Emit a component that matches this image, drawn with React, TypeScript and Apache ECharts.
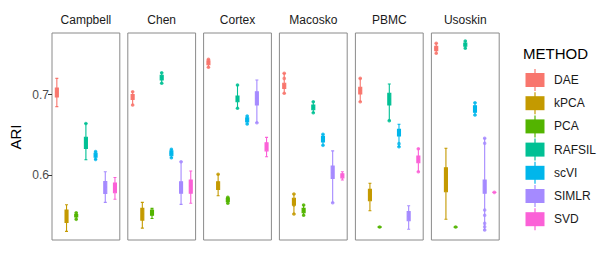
import React, { useEffect, useRef } from "react";
import * as echarts from "echarts";

const METHODS = ["DAE", "kPCA", "PCA", "RAFSIL", "scVI", "SIMLR", "SVD"];
const COLORS = ["#F8766D", "#C49A00", "#53B400", "#00C094", "#00B6EB", "#A58AFF", "#FB61D7"];
const DATASETS = ["Campbell", "Chen", "Cortex", "Macosko", "PBMC", "Usoskin"];
const Y_TICKS = [0.6, 0.7];

// [min, q1, median, q3, max] per method
const CAMPBELL = [
  [0.685, 0.697, 0.7035, 0.708, 0.72],
  [0.53, 0.541, 0.55, 0.5565, 0.563],
  [0.545, 0.548, 0.5495, 0.551, 0.553],
  [0.619, 0.633, 0.64, 0.647, 0.664],
  [0.6195, 0.622, 0.6245, 0.627, 0.629],
  [0.566, 0.577, 0.585, 0.592, 0.604],
  [0.57, 0.578, 0.584, 0.59, 0.597],
];
const CHEN = [
  [0.687, 0.694, 0.697, 0.7, 0.7035],
  [0.534, 0.544, 0.5515, 0.5586, 0.566],
  [0.546, 0.55, 0.553, 0.5565, 0.5586],
  [0.714, 0.718, 0.7213, 0.724, 0.727],
  [0.6215, 0.624, 0.627, 0.63, 0.632],
  [0.5636, 0.5773, 0.5847, 0.5917, 0.6165],
  [0.565, 0.5773, 0.5863, 0.5938, 0.605],
];
const CORTEX = [
  [0.7338, 0.737, 0.7395, 0.742, 0.7437],
  [0.5743, 0.5822, 0.5872, 0.5917, 0.6009],
  [0.565, 0.567, 0.569, 0.571, 0.5723],
  [0.6829, 0.691, 0.6953, 0.698, 0.7118],
  [0.6634, 0.666, 0.6683, 0.671, 0.6733],
  [0.665, 0.687, 0.6953, 0.7035, 0.718],
  [0.6227, 0.63, 0.6352, 0.64, 0.6468],
];
const MACOSKO = [
  [0.7015, 0.7075, 0.7106, 0.714, 0.7263],
  [0.5516, 0.5627, 0.5669, 0.5711, 0.5764],
  [0.55, 0.5532, 0.556, 0.5586, 0.5627],
  [0.6774, 0.681, 0.6836, 0.687, 0.691],
  [0.6369, 0.641, 0.6443, 0.648, 0.6506],
  [0.5656, 0.5959, 0.6029, 0.6112, 0.63],
  [0.5938, 0.5965, 0.5991, 0.6015, 0.6041],
];
const PBMC = [
  [0.691, 0.7006, 0.7047, 0.709, 0.72],
  [0.5557, 0.568, 0.5752, 0.5822, 0.5897],
  [0.535, 0.5352, 0.5354, 0.5356, 0.5358],
  [0.6675, 0.687, 0.6944, 0.7015, 0.713],
  [0.6352, 0.6484, 0.6526, 0.6567, 0.663],
  [0.5326, 0.5432, 0.549, 0.5545, 0.5619],
  [0.6041, 0.6153, 0.6195, 0.6236, 0.6327],
];
const USOSKIN = [
  [0.7512, 0.7545, 0.7574, 0.76, 0.7636],
  [0.545, 0.5793, 0.5938, 0.6091, 0.6332],
  [0.5352, 0.5353, 0.5354, 0.5355, 0.5356],
  [0.7574, 0.76, 0.7624, 0.764, 0.7665],
  [0.6745, 0.678, 0.682, 0.686, 0.6898],
  [0.5317, 0.5773, 0.5863, 0.5938, 0.6456],
  [0.5783, 0.5784, 0.5785, 0.5786, 0.5787],
];
const BOXES = [CAMPBELL, CHEN, CORTEX, MACOSKO, PBMC, USOSKIN];

// outlier / extreme points: [method index, value]
const CAMPBELL_PTS = [[2, 0.553], [2, 0.545], [3, 0.664], [4, 0.629], [4, 0.6195]];
const CHEN_PTS = [[0, 0.7035], [0, 0.687], [3, 0.727], [3, 0.714], [4, 0.632], [4, 0.6215], [4, 0.627], [5, 0.6165]];
const CORTEX_PTS = [[0, 0.7437], [0, 0.7338], [1, 0.6009], [2, 0.5723], [2, 0.565], [3, 0.7118], [3, 0.6829], [4, 0.6733], [4, 0.6634], [5, 0.665]];
const MACOSKO_PTS = [[0, 0.7263], [0, 0.72], [0, 0.7015], [1, 0.5764], [1, 0.5516], [1, 0.5627], [2, 0.5627], [2, 0.55], [3, 0.691], [3, 0.6774], [4, 0.6506], [4, 0.6369], [4, 0.6443], [5, 0.5656]];
const PBMC_PTS = [[0, 0.72], [0, 0.691], [2, 0.5354], [3, 0.6675], [4, 0.6352], [4, 0.639], [6, 0.6327], [6, 0.6041]];
const USOSKIN_PTS = [[0, 0.7636], [0, 0.7574], [0, 0.7512], [2, 0.5354], [3, 0.7665], [3, 0.7574], [4, 0.6898], [4, 0.682], [4, 0.6745], [5, 0.6456], [5, 0.6394], [5, 0.5565], [5, 0.55], [5, 0.54], [5, 0.5358], [5, 0.5317], [6, 0.5785]];
const POINTS = [CAMPBELL_PTS, CHEN_PTS, CORTEX_PTS, MACOSKO_PTS, PBMC_PTS, USOSKIN_PTS];

const PANEL_LEFTS = [52, 127.8, 203.6, 279.4, 355.4, 431.4];
const PANEL_W = 67.8;
const PANEL_TOP = 33;
const PANEL_H = 207;
const Y_MIN = 0.5193;
const Y_MAX = 0.7764;
const FONT = "Liberation Sans, Arial, sans-serif";

export default function App() {
  const ref = useRef<HTMLDivElement>(null);
  useEffect(() => {
    if (!ref.current) return;
    const chart = echarts.init(ref.current, undefined, { renderer: "svg" });
    const grid: any[] = [];
    const xAxis: any[] = [];
    const yAxis: any[] = [];
    const series: any[] = [];
    const graphic: any[] = [];
    DATASETS.forEach((name, gi) => {
      grid.push({
        left: PANEL_LEFTS[gi],
        top: PANEL_TOP,
        width: PANEL_W,
        height: PANEL_H,
        show: true,
        borderColor: "#8a8a8a",
        borderWidth: 1,
        backgroundColor: "transparent",
      });
      xAxis.push({
        type: "category",
        gridIndex: gi,
        data: METHODS,
        boundaryGap: true,
        axisLine: { show: false },
        axisTick: { show: false },
        axisLabel: { show: false },
        splitLine: { show: false },
      });
      yAxis.push({
        type: "value",
        gridIndex: gi,
        min: Y_MIN,
        max: Y_MAX,
        axisLine: { show: false },
        splitLine: { show: false },
        axisTick: {
          show: gi === 0,
          length: 4,
          lineStyle: { color: "#333333", width: 1 },
          customValues: Y_TICKS,
        },
        axisLabel: {
          show: gi === 0,
          customValues: Y_TICKS,
          formatter: (v: number) => v.toFixed(1),
          fontSize: 12,
          color: "#4d4d4d",
          fontFamily: FONT,
          margin: 3,
        },
      });
      series.push({
        type: "boxplot",
        xAxisIndex: gi,
        yAxisIndex: gi,
        boxWidth: [3, 3],
        data: BOXES[gi].map((v, i) => ({
          value: v,
          itemStyle: { color: COLORS[i], borderColor: COLORS[i], borderWidth: 1.1 },
        })),
        emphasis: { disabled: true },
      });
      series.push({
        type: "scatter",
        xAxisIndex: gi,
        yAxisIndex: gi,
        symbolSize: 3.6,
        data: POINTS[gi].map(([m, v]) => ({
          value: [METHODS[m], v],
          itemStyle: { color: COLORS[m] },
        })),
      });
      graphic.push({
        type: "text",
        x: PANEL_LEFTS[gi] + PANEL_W / 2,
        y: 20,
        style: {
          text: name,
          fontSize: 12,
          fontFamily: FONT,
          fill: "#1a1a1a",
          align: "center",
          verticalAlign: "middle",
        },
      });
    });
    graphic.push({
      type: "text",
      x: 15,
      y: 137,
      rotation: Math.PI / 2,
      style: {
        text: "ARI",
        fontSize: 15,
        fontFamily: FONT,
        fill: "#000",
        align: "center",
        verticalAlign: "middle",
      },
    });
    graphic.push({
      type: "text",
      x: 523,
      y: 53,
      style: {
        text: "METHOD",
        fontSize: 15,
        fontFamily: FONT,
        fill: "#000",
        align: "left",
        verticalAlign: "middle",
      },
    });
    METHODS.forEach((m, i) => {
      const cy = 80 + i * 23.2;
      graphic.push({
        type: "line",
        shape: { x1: 535, y1: cy - 11, x2: 535, y2: cy + 11 },
        style: { stroke: COLORS[i], lineWidth: 1.2 },
      });
      graphic.push({
        type: "rect",
        shape: { x: 525.5, y: cy - 7, width: 19, height: 14 },
        style: { fill: COLORS[i] },
      });
      graphic.push({
        type: "text",
        x: 554,
        y: cy,
        style: {
          text: m,
          fontSize: 12,
          fontFamily: FONT,
          fill: "#1a1a1a",
          align: "left",
          verticalAlign: "middle",
        },
      });
    });
    chart.setOption({
      animation: false,
      backgroundColor: "#ffffff",
      grid,
      xAxis,
      yAxis,
      series,
      graphic,
    });
    return () => chart.dispose();
  }, []);
  return (
    <div
      ref={ref}
      style={{ position: "fixed", left: 0, top: 0, width: 615, height: 260 }}
    />
  );
}
